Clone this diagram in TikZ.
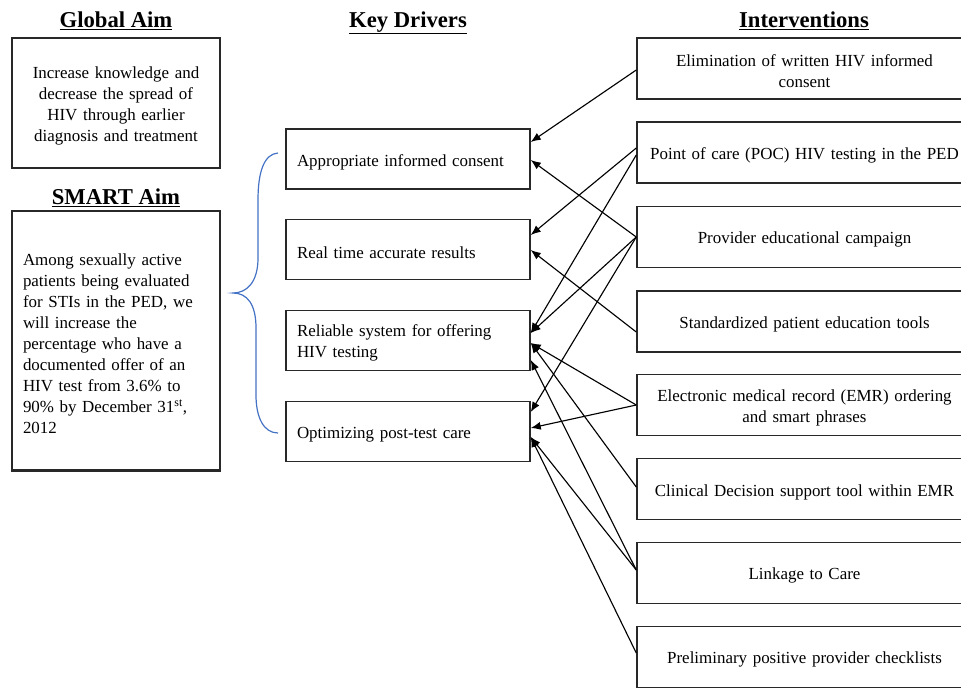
\documentclass[tikz,border=0pt]{standalone}
\usepackage{fontspec}
\setmainfont{Liberation Serif}
\usetikzlibrary{calc,arrows.meta}
\definecolor{bracecol}{RGB}{68,114,196}
\definecolor{boxline}{RGB}{40,40,40}
\tikzset{
  box/.style={draw=boxline, line width=1.1pt, inner ysep=0pt, font=\fontsize{12.7}{15.75}\selectfont,
    execute at begin node={\rule{0pt}{13.2pt}}},
  aimbox/.style={box, minimum width=156pt, inner xsep=8.25pt, text width=139.5pt},
  drvbox/.style={box, minimum width=183pt, minimum height=45pt, inner xsep=8.25pt, text width=166.5pt, align=left},
  intbox/.style={box, minimum width=251.25pt, minimum height=45.75pt, inner xsep=4pt, text width=243.25pt, align=center},
  ttl/.style={font=\fontsize{17}{20}\selectfont\bfseries, anchor=base},
  arr/.style={line width=0.85pt, -{Latex[length=7.5pt,width=6pt]}},
}
\begin{document}
\begin{tikzpicture}[x=0.75pt,y=-0.75pt]
\useasboundingbox (0,0) rectangle (961,687);
% titles
\node[ttl] (t1) at (116,27) {\underline{Global Aim}};
\node[ttl] (t2) at (116,204) {\underline{SMART Aim}};
\node[ttl] (t3) at (408,27) {\underline{Key Drivers}};
\node[ttl] (t4) at (804,27) {\underline{Interventions}};
% aim boxes
\node[aimbox, minimum height=97.5pt, align=center] (glob) at (116,103)
  {Increase knowledge and\\decrease the spread of\\HIV through earlier\\diagnosis and treatment};
\node[aimbox, minimum height=194.25pt, align=left] (smart) at (116,340.5)
  {Among sexually active\\patients being evaluated\\for STIs in the PED, we\\will increase the\\percentage who have a\\documented offer of an\\HIV test from 3.6\% to\\90\% by December 31\textsuperscript{st},\\2012};
\draw[line width=1.6pt, boxline] (smart.south west) -- (smart.south east);
% brace
\draw[bracecol, line width=0.9pt] (278,153) .. controls (264,154) and (258,172) .. (258,200)
  -- (258,258) .. controls (258,282) and (247,293) .. (233,293)
  .. controls (247,293) and (256,304) .. (256,328)
  -- (256,395) .. controls (256,418) and (264,433) .. (278,433);
% drivers
\node[drvbox] (d1) at (408,159) {Appropriate informed consent};
\node[drvbox] (d2) at (408,249.5) {Real time accurate results};
\node[drvbox] (d3) at (408,340.5) {Reliable system for offering\\HIV testing};
\node[drvbox] (d4) at (408,431.5) {Optimizing post-test care};
% interventions
\node[intbox] (i1) at (804.5,68.5) {Elimination of written HIV informed\\consent};
\node[intbox] (i2) at (804.5,152.5) {Point of care (POC) HIV testing in the PED};
\node[intbox] (i3) at (804.5,237) {Provider educational campaign};
\node[intbox] (i4) at (804.5,321.5) {Standardized patient education tools};
\node[intbox] (i5) at (804.5,405) {Electronic medical record (EMR) ordering\\and smart phrases};
\node[intbox] (i6) at (804.5,489) {Clinical Decision support tool within EMR};
\node[intbox] (i7) at (804.5,573) {Linkage to Care};
\node[intbox] (i8) at (804.5,657) {Preliminary positive provider checklists};
% connectors
\draw[arr] ($(i1.west)+(0,1.5)$) -- ($(d1.east)+(0,-17)$);
\draw[arr] (i3.west) -- ($(d1.east)+(0,1)$);
\draw[arr] ($(i2.west)+(0,-4.5)$) -- ($(d2.east)+(0,-14.5)$);
\draw[arr] ($(i4.west)+(0,10.5)$) -- ($(d2.east)+(0,0.5)$);
\draw[arr] ($(i2.west)+(0,2.5)$) -- ($(d3.east)+(0,-7.5)$);
\draw[arr] (i3.west) -- ($(d3.east)+(0,-7.5)$);
\draw[arr] (i3.west) -- ($(d4.east)+(0,-19.5)$);
\draw[arr] (i5.west) -- ($(d3.east)+(0,2.5)$);
\draw[arr] (i5.west) -- ($(d4.east)+(0,-3.5)$);
\draw[arr] ($(i6.west)+(0,-2)$) -- ($(d3.east)+(0,2.5)$);
\draw[arr] ($(i7.west)+(0,-3)$) -- ($(d3.east)+(0,19.5)$);
\draw[arr] ($(i7.west)+(0,-3)$) -- ($(d4.east)+(0,5.5)$);
\draw[arr] ($(i8.west)+(0,-4)$) -- ($(d4.east)+(0,5.5)$);
\end{tikzpicture}
\end{document}
